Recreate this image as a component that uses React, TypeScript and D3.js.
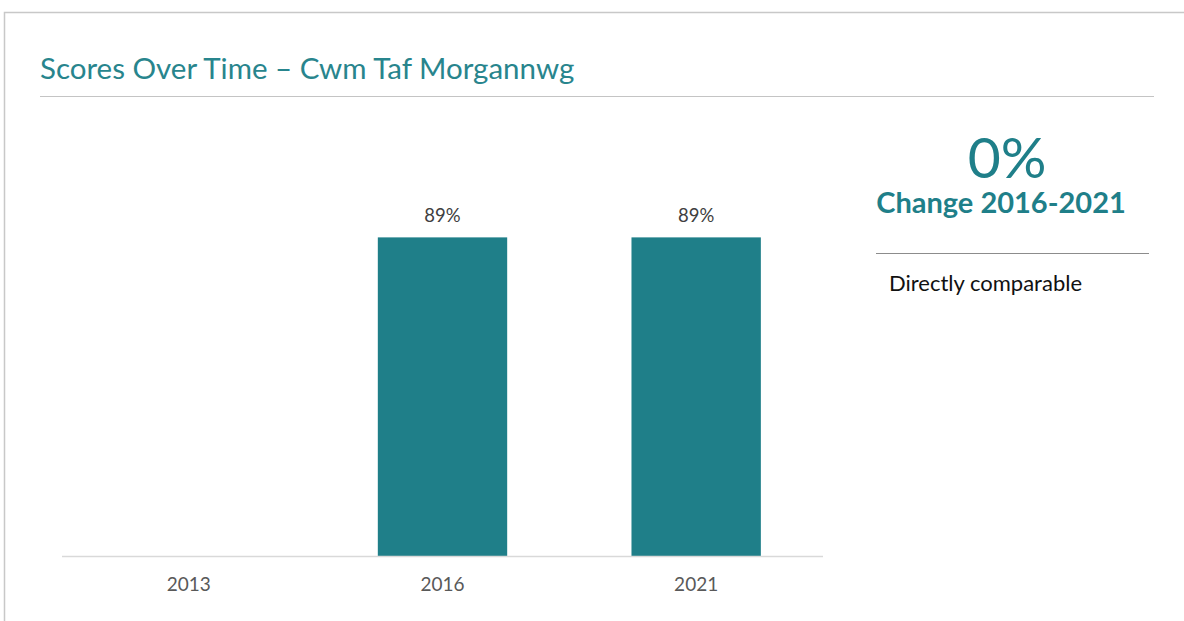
import * as React from 'react';
import {useEffect, useRef} from 'react';
import * as d3 from 'd3';

const years = ['2013', '2016', '2021'];
const scores: (number | null)[] = [null, 89, 89];
const changeValue = '0%';
const changeLabel = 'Change 2016-2021';
const comparability = 'Directly comparable';
const title = 'Scores Over Time \u2013 Cwm Taf Morgannwg';

const W = 1184;
const H = 621;
const teal = '#1f7f89';
const font = 'Lato, "Open Sans", sans-serif';

export default function App() {
  const ref = useRef<SVGSVGElement>(null);

  useEffect(() => {
    const svg = d3.select(ref.current);
    svg.selectAll('*').remove();

    svg.append('rect').attr('width', W).attr('height', H).attr('fill', '#fff');

    // slide frame
    svg.append('path')
      .attr('d', `M4.5,${H} V12.5 H${W}`)
      .attr('fill', 'none')
      .attr('stroke', '#c8c8c8')
      .attr('stroke-width', 1.5);

    svg.append('text')
      .attr('x', 40).attr('y', 79)
      .attr('fill', '#28858d')
      .style('font', `29.5px ${font}`)
      .text(title);

    svg.append('line')
      .attr('x1', 40).attr('x2', 1154)
      .attr('y1', 96.5).attr('y2', 96.5)
      .attr('stroke', '#c4c4c4').attr('stroke-width', 1.2);

    // chart
    const x = d3.scaleBand<string>().domain(years).range([62, 823]).paddingInner(0.49).paddingOuter(0.245);
    const y = d3.scaleLinear().domain([0, 100]).range([556, 198]);

    const g = svg.append('g');
    const data = years.map((yr, i) => ({yr, v: scores[i]})).filter(d => d.v != null) as {yr: string, v: number}[];

    g.selectAll('rect.bar')
      .data(data)
      .join('rect')
      .attr('class', 'bar')
      .attr('x', d => x(d.yr)!)
      .attr('width', x.bandwidth())
      .attr('y', d => y(d.v))
      .attr('height', d => y(0) - y(d.v))
      .attr('fill', teal);

    g.selectAll('text.val')
      .data(data)
      .join('text')
      .attr('class', 'val')
      .attr('x', d => x(d.yr)! + x.bandwidth() / 2)
      .attr('y', d => y(d.v) - 15)
      .attr('text-anchor', 'middle')
      .attr('fill', '#404040')
      .style('font', `18.5px ${font}`)
      .text(d => `${d.v}%`);

    g.append('line')
      .attr('x1', 62).attr('x2', 823)
      .attr('y1', y(0) + 0.5).attr('y2', y(0) + 0.5)
      .attr('stroke', '#d9d9d9').attr('stroke-width', 1.5);

    g.selectAll('text.yr')
      .data(years)
      .join('text')
      .attr('class', 'yr')
      .attr('x', d => x(d)! + x.bandwidth() / 2)
      .attr('y', 591)
      .attr('text-anchor', 'middle')
      .attr('fill', '#595959')
      .style('font', `19px ${font}`)
      .text(d => d);

    // side panel
    svg.append('text')
      .attr('x', 1007).attr('y', 178)
      .attr('text-anchor', 'middle')
      .attr('fill', teal)
      .style('font', `57px ${font}`)
      .text(changeValue);

    svg.append('text')
      .attr('x', 1001).attr('y', 213)
      .attr('text-anchor', 'middle')
      .attr('fill', teal)
      .style('font', `bold 29px ${font}`)
      .text(changeLabel);

    svg.append('line')
      .attr('x1', 876).attr('x2', 1149)
      .attr('y1', 253.5).attr('y2', 253.5)
      .attr('stroke', '#8c8c8c').attr('stroke-width', 1.2);

    svg.append('text')
      .attr('x', 889).attr('y', 291)
      .attr('fill', '#111')
      .style('font', `22px ${font}`)
      .text(comparability);
  }, []);

  return <svg ref={ref} width={W} height={H} style={{position: 'absolute', left: 0, top: 0}} />;
}
